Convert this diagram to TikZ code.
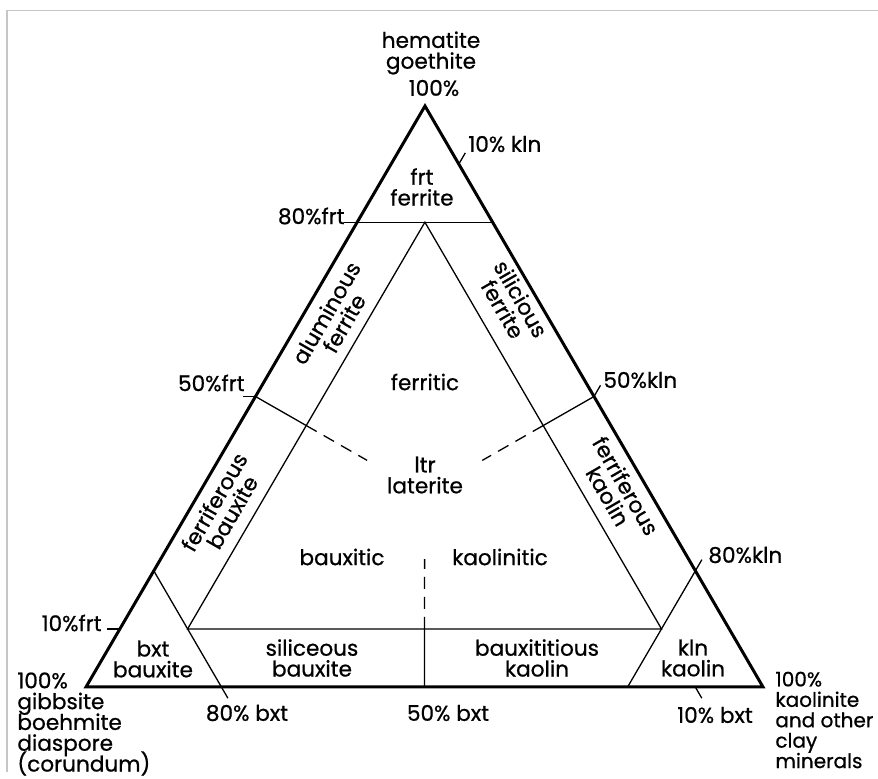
\documentclass[tikz,border=0pt]{standalone}
\usepackage{fontspec}
\setmainfont{Poppins}[UprightFeatures={FakeBold=0.7}]

\begin{document}
\begin{tikzpicture}[x=0.5pt,y=-0.5pt,
    lbl/.style={font={\fontsize{10.8}{10.4}\selectfont\lineskiplimit=-20pt}, inner sep=0pt, align=center},
    thinline/.style={line width=0.65pt},
    dashline/.style={line width=0.65pt, dash pattern=on 6pt off 4pt}]
    \useasboundingbox (0,0) rectangle (878,779);
    % frame of the scan
    \draw [gray!45, line width=0.6pt] (878,10.5)--(7,10.5)--(7,772);
    %
    \coordinate (T) at (425,106);
    \coordinate (L) at (86,687);
    \coordinate (R) at (763,687);
    % points on the sides
    \coordinate (f80l) at (barycentric cs:T=0.8,L=0.2,R=0);
    \coordinate (f80r) at (barycentric cs:T=0.8,L=0,R=0.2);
    \coordinate (f50) at (barycentric cs:T=0.5,L=0.5,R=0);
    \coordinate (f20l) at (barycentric cs:T=0.2,L=0.8,R=0);
    \coordinate (f10) at (barycentric cs:T=0.1,L=0.9,R=0);
    \coordinate (k10) at (barycentric cs:T=0.9,L=0,R=0.1);
    \coordinate (k50) at (barycentric cs:T=0.5,L=0,R=0.5);
    \coordinate (f20r) at (barycentric cs:T=0.2,L=0,R=0.8);
    \coordinate (b80) at (barycentric cs:T=0,L=0.8,R=0.2);
    \coordinate (b50) at (barycentric cs:T=0,L=0.5,R=0.5);
    \coordinate (b20) at (barycentric cs:T=0,L=0.2,R=0.8);
    \coordinate (b10) at (barycentric cs:T=0,L=0.1,R=0.9);
    % inner corners
    \coordinate (top) at (barycentric cs:T=0.8,L=0.1,R=0.1);
    \coordinate (left) at (barycentric cs:T=0.1,L=0.8,R=0.1);
    \coordinate (right) at (barycentric cs:T=0.1,L=0.1,R=0.8);
    \coordinate (fb) at (barycentric cs:T=0.45,L=0.45,R=0.1);
    \coordinate (fk) at (barycentric cs:T=0.45,L=0.1,R=0.45);
    \coordinate (bk) at (barycentric cs:T=0.1,L=0.45,R=0.45);
    \coordinate (fbend) at (barycentric cs:T=0.39,L=0.39,R=0.22);
    \coordinate (fkend) at (barycentric cs:T=0.39,L=0.22,R=0.39);
    \coordinate (bkend) at (barycentric cs:T=0.22,L=0.39,R=0.39);
    %
    \draw [thinline] (f80l)--(f80r);
    \draw [thinline] (top)--(left)--(right)--cycle;
    \draw [thinline] (f20l)--(b80)--++(6.5,11.2);
    \draw [thinline] (b20)--(f20r)--++(6.5,-11.2);
    \draw [thinline] (f50)--(fb);
    \draw [thinline] (k50)--(fk);
    \draw [thinline] (b50)--(bk);
    \draw [dashline] (fb)--(fbend);
    \draw [dashline] (fk)--(fkend);
    \draw [dashline] (bk)--(bkend);
    % ticks
    \draw [thinline] (f80l)--++(-13,0);
    \draw [thinline] (f50)--++(-13,0);
    \draw [thinline] (f10)--++(-13,0);
    \draw [thinline] (k10)--++(6.5,-11.2);
    \draw [thinline] (k50)--++(6.5,-11.2);
    \draw [thinline] (b10)--++(6.5,11.2);
    %
    \draw [line width=1.5pt, line join=miter] (T)--(L)--(R)--cycle;
    % labels
    \node (hem) [lbl] at (431,53) {hematite\\goethite};
    \node (t100) [lbl] at (434,88) {100\%};
    \node (kln10) [lbl, anchor=west] at (468,144) {10\% kln};
    \node (frt) [lbl] at (422,187) {frt\\ferrite};
    \node (frt80) [lbl, anchor=east] at (345,216) {80\%frt};
    \node (alfe) [lbl, rotate=60] at (335,318) {aluminous\\ferrite};
    \node (sife) [lbl, rotate=-60] at (512,304) {silicious\\ferrite};
    \node (frt50) [lbl, anchor=east] at (245,383) {50\%frt};
    \node (kln50) [lbl, anchor=west] at (603,380) {50\%kln};
    \node (ferritic) [lbl] at (425,382) {ferritic};
    \node (ltr) [lbl] at (425,475) {ltr\\laterite};
    \node (febx) [lbl, rotate=60] at (223,507) {ferriferous\\bauxite};
    \node (feka) [lbl, rotate=-60] at (617,491) {ferriferous\\kaolin};
    \node (bauxitic) [lbl] at (342,557) {bauxitic};
    \node (kaolinitic) [lbl] at (500,557) {kaolinitic};
    \node (kln80) [lbl, anchor=west] at (708,555) {80\%kln};
    \node (frt10) [lbl, anchor=east] at (102,623) {10\%frt};
    \node (bxt) [lbl] at (153,659) {bxt\\bauxite};
    \node (sibx) [lbl] at (312,658) {siliceous\\bauxite};
    \node (bxka) [lbl] at (537,658) {bauxititious\\kaolin};
    \node (kln) [lbl] at (693,658) {kln\\kaolin};
    \node (gibb) [lbl, anchor=west, align=left] at (17,724) {100\%\\gibbsite\\boehmite\\diaspore\\(corundum)};
    \node (bxt80) [lbl] at (247,713) {80\% bxt};
    \node (bxt50) [lbl] at (448,713) {50\% bxt};
    \node (bxt10) [lbl] at (715,715) {10\% bxt};
    \node (kaol) [lbl, anchor=west, align=left, font={\fontsize{10}{10.2}\selectfont\lineskiplimit=-20pt}] at (775,720) {100\%\\kaolinite\\and other\\clay\\minerals};
\end{tikzpicture}
\end{document}
